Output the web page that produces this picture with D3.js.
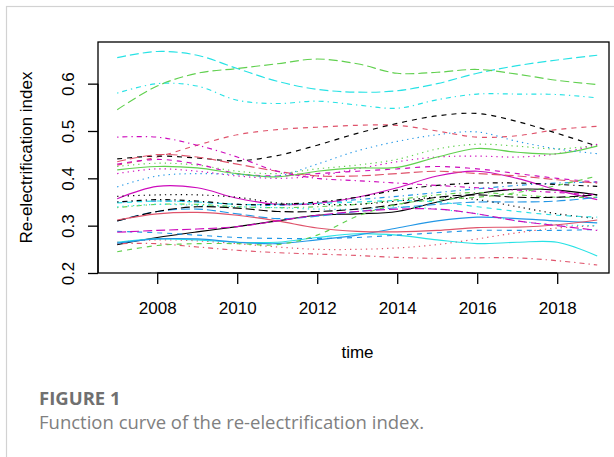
<!DOCTYPE html>
<html>
<head>
<meta charset="utf-8">
<script src="https://cdn.jsdelivr.net/npm/d3@7"></script>
<style>
  body { margin: 0; background: #fff; }
  svg text { font-family: "Liberation Sans", Arial, sans-serif; }
</style>
</head>
<body>
<svg id="drawing_region"></svg>
<script>
// time points
const years = [2007, 2008, 2009, 2010, 2011, 2012, 2013, 2014, 2015, 2016, 2017, 2018, 2019];
const xticks = [2008, 2010, 2012, 2014, 2016, 2018];
const yticks = [0.2, 0.3, 0.4, 0.5, 0.6];

// one array per region, in matplot column order (colour cycles 1:6, line type cycles 1:5)
const c01 = [0.260, 0.275, 0.287, 0.298, 0.310, 0.322, 0.325, 0.330, 0.350, 0.368, 0.377, 0.375, 0.365];
const c02 = [0.428, 0.445, 0.470, 0.492, 0.503, 0.508, 0.512, 0.512, 0.500, 0.487, 0.490, 0.503, 0.510];
const c03 = [0.425, 0.432, 0.428, 0.415, 0.410, 0.420, 0.428, 0.440, 0.462, 0.472, 0.468, 0.462, 0.470];
const c04 = [0.350, 0.352, 0.350, 0.345, 0.343, 0.348, 0.355, 0.362, 0.370, 0.378, 0.385, 0.390, 0.392];
const c05 = [0.655, 0.668, 0.660, 0.632, 0.605, 0.588, 0.582, 0.585, 0.600, 0.622, 0.638, 0.650, 0.660];
const c06 = [0.357, 0.383, 0.380, 0.358, 0.345, 0.347, 0.360, 0.380, 0.405, 0.415, 0.400, 0.375, 0.355];
const c07 = [0.441, 0.447, 0.443, 0.437, 0.448, 0.470, 0.495, 0.516, 0.532, 0.537, 0.520, 0.495, 0.468];
const c08 = [0.265, 0.270, 0.268, 0.262, 0.255, 0.250, 0.250, 0.253, 0.260, 0.272, 0.285, 0.295, 0.300];
const c09 = [0.338, 0.345, 0.345, 0.340, 0.338, 0.340, 0.345, 0.355, 0.365, 0.370, 0.365, 0.360, 0.360];
const c10 = [0.310, 0.330, 0.335, 0.325, 0.315, 0.320, 0.330, 0.338, 0.345, 0.350, 0.350, 0.352, 0.360];
const c11 = [0.265, 0.272, 0.270, 0.265, 0.265, 0.275, 0.283, 0.280, 0.270, 0.262, 0.265, 0.265, 0.236];
const c12 = [0.430, 0.440, 0.430, 0.410, 0.405, 0.410, 0.415, 0.420, 0.425, 0.420, 0.410, 0.400, 0.392];
const c13 = [0.362, 0.365, 0.365, 0.360, 0.348, 0.345, 0.345, 0.352, 0.360, 0.355, 0.340, 0.325, 0.315];
const c14 = [0.262, 0.262, 0.255, 0.248, 0.243, 0.240, 0.237, 0.233, 0.231, 0.232, 0.232, 0.226, 0.217];
const c15 = [0.545, 0.595, 0.622, 0.632, 0.642, 0.652, 0.642, 0.622, 0.624, 0.630, 0.620, 0.607, 0.598];
const c16 = [0.263, 0.272, 0.272, 0.265, 0.262, 0.270, 0.280, 0.295, 0.310, 0.318, 0.315, 0.310, 0.306];
const c17 = [0.348, 0.352, 0.350, 0.345, 0.345, 0.347, 0.350, 0.353, 0.350, 0.340, 0.330, 0.322, 0.318];
const c18 = [0.410, 0.420, 0.415, 0.405, 0.400, 0.405, 0.420, 0.435, 0.445, 0.447, 0.445, 0.452, 0.472];
const c19 = [0.350, 0.355, 0.352, 0.345, 0.345, 0.350, 0.360, 0.375, 0.385, 0.390, 0.390, 0.387, 0.383];
const c20 = [0.435, 0.450, 0.445, 0.430, 0.415, 0.405, 0.405, 0.410, 0.415, 0.410, 0.405, 0.397, 0.390];
const c21 = [0.418, 0.425, 0.422, 0.410, 0.403, 0.415, 0.422, 0.423, 0.445, 0.463, 0.455, 0.452, 0.468];
const c22 = [0.288, 0.285, 0.280, 0.275, 0.273, 0.273, 0.275, 0.280, 0.285, 0.290, 0.290, 0.290, 0.292];
const c23 = [0.340, 0.345, 0.343, 0.340, 0.338, 0.335, 0.335, 0.340, 0.335, 0.325, 0.310, 0.302, 0.300];
const c24 = [0.487, 0.487, 0.470, 0.445, 0.415, 0.400, 0.395, 0.390, 0.385, 0.380, 0.375, 0.370, 0.365];
const c25 = [0.310, 0.330, 0.340, 0.337, 0.330, 0.330, 0.335, 0.345, 0.360, 0.365, 0.360, 0.360, 0.365];
const c26 = [0.312, 0.325, 0.328, 0.322, 0.310, 0.295, 0.288, 0.287, 0.290, 0.296, 0.297, 0.302, 0.312];
const c27 = [0.245, 0.258, 0.262, 0.262, 0.260, 0.280, 0.320, 0.345, 0.355, 0.360, 0.370, 0.385, 0.405];
const c28 = [0.382, 0.405, 0.410, 0.408, 0.405, 0.430, 0.458, 0.478, 0.492, 0.498, 0.478, 0.462, 0.452];
const c29 = [0.580, 0.600, 0.595, 0.565, 0.558, 0.563, 0.555, 0.548, 0.566, 0.578, 0.578, 0.577, 0.570];
const c30 = [0.286, 0.290, 0.293, 0.298, 0.310, 0.322, 0.330, 0.335, 0.335, 0.325, 0.310, 0.300, 0.290];

const columns = [c01, c02, c03, c04, c05, c06, c07, c08, c09, c10,
                 c11, c12, c13, c14, c15, c16, c17, c18, c19, c20,
                 c21, c22, c23, c24, c25, c26, c27, c28, c29, c30];

class FunctionPlot {
    constructor( config, data ) {
        this.config = {
            parent: config.parent,
            width: config.width || 614,
            height: config.height || 457,
            box: config.box,
        }
        this.data = data;
        this.init();
    }

    init() {
        let self = this;
        self.svg = d3.select( self.config.parent )
            .attr('width', self.config.width)
            .attr('height', self.config.height);

        // outer figure frame
        self.svg.append('rect')
            .attr('x', 6.5).attr('y', 6.5)
            .attr('width', 700).attr('height', 500)
            .attr('fill', 'none')
            .attr('stroke', '#d2d2d2')
            .attr('stroke-width', 1.2);

        const box = self.config.box;
        self.xscale = d3.scaleLinear()
            .domain( [2006.52, 2019.48] )
            .range( [box.left, box.left + 40 * 12.96] );
        self.yscale = d3.scaleLinear()
            .domain( [0.2, 0.688] )
            .range( [box.bottom, box.top] );

        self.colors = ['#000000', '#DF536B', '#61D04F', '#2297E6', '#28E2E5', '#CD0BBC'];
        self.dashes = ['none', '5,5', '1.3,4', '1.3,4,5,4', '9,4'];
    }

    render() {
        let self = this;
        const box = self.config.box;

        const line = d3.line()
            .x( (d, i) => self.xscale( years[i] ) )
            .y( d => self.yscale( d ) )
            .curve( d3.curveCatmullRom.alpha(0.5) );

        self.svg.append('g')
            .selectAll('path')
            .data(self.data)
            .join('path')
            .attr('d', d => line(d))
            .attr('fill', 'none')
            .attr('stroke', (d, i) => self.colors[i % 6])
            .attr('stroke-dasharray', (d, i) => self.dashes[i % 5])
            .attr('stroke-width', 1.15);

        // plot box
        self.svg.append('rect')
            .attr('x', box.left).attr('y', box.top)
            .attr('width', box.right - box.left)
            .attr('height', box.bottom - box.top)
            .attr('fill', 'none')
            .attr('stroke', '#000')
            .attr('stroke-width', 1.3);

        const xaxis = d3.axisBottom( self.xscale )
            .tickValues( xticks )
            .tickFormat( d3.format('d') )
            .tickSize(11)
            .tickPadding(19);
        const xg = self.svg.append('g')
            .attr('transform', `translate(0, ${box.bottom})`)
            .call( xaxis );
        xg.select('.domain')
            .attr('d', `M${self.xscale(xticks[0])},0H${self.xscale(xticks[xticks.length - 1])}`)
            .attr('stroke-width', 1.3);
        xg.selectAll('.tick line').attr('stroke-width', 1.3);
        xg.selectAll('text')
            .attr('dy', null)
            .attr('y', 41)
            .style('font-size', '17px')
            .attr('fill', '#000');

        const yaxis = d3.axisLeft( self.yscale )
            .tickValues( yticks )
            .tickFormat( d3.format('.1f') )
            .tickSize(10);
        const yg = self.svg.append('g')
            .attr('transform', `translate(${box.left}, 0)`)
            .call( yaxis );
        yg.select('.domain')
            .attr('d', `M0,${self.yscale(0.2)}V${self.yscale(0.6)}`)
            .attr('stroke-width', 1.3);
        yg.selectAll('.tick line').attr('stroke-width', 1.3);
        yg.selectAll('text')
            .attr('x', null).attr('dy', null)
            .attr('text-anchor', 'middle')
            .attr('transform', `translate(-24, 0) rotate(-90)`)
            .style('font-size', '17px')
            .attr('fill', '#000');

        self.svg.append('text')
            .attr('x', (box.left + 617) / 2)
            .attr('y', 358)
            .attr('text-anchor', 'middle')
            .style('font-size', '17px')
            .text('time');

        self.svg.append('text')
            .attr('transform', `translate(32, ${(box.top + box.bottom) / 2}) rotate(-90)`)
            .attr('text-anchor', 'middle')
            .style('font-size', '17px')
            .text('Re-electrification index');

        // caption
        self.svg.append('text')
            .attr('x', 39).attr('y', 405)
            .style('font-family', '"Open Sans", sans-serif')
            .style('font-size', '18.5px')
            .style('font-weight', 'bold')
            .attr('fill', '#707070')
            .text('FIGURE 1');
        self.svg.append('text')
            .attr('x', 39).attr('y', 429)
            .style('font-family', '"Open Sans", sans-serif')
            .style('font-size', '18.5px')
            .attr('fill', '#808080')
            .text('Function curve of the re-electrification index.');
    }
}

let chart = new FunctionPlot({
    parent: '#drawing_region',
    width: 614,
    height: 457,
    box: {left: 98, right: 609, top: 42, bottom: 273},
}, columns);
chart.render();
</script>
</body>
</html>
